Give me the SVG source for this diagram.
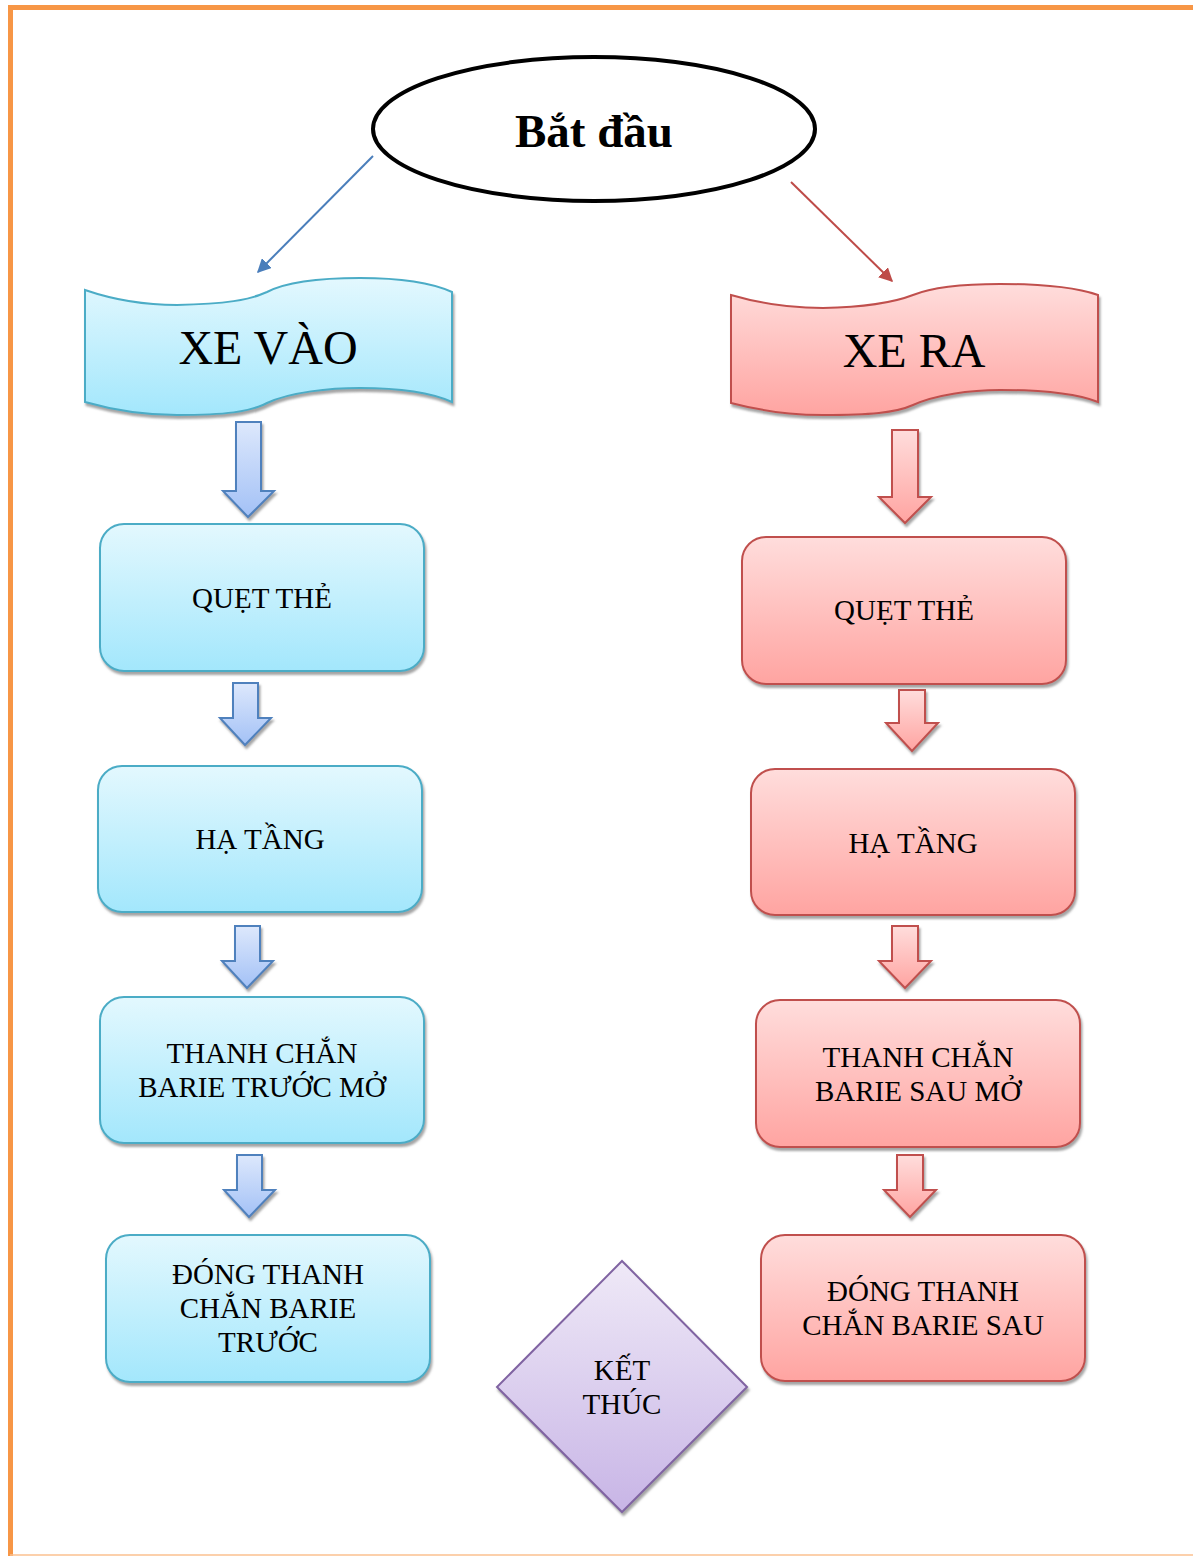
<svg xmlns="http://www.w3.org/2000/svg" width="1193" height="1556" viewBox="0 0 1193 1556">
<style>
text{font-family:"Liberation Serif","Times New Roman",serif;fill:#000;text-anchor:middle}
.t{font-size:29px}
.bl{fill:url(#gb);stroke:#4bacc6;stroke-width:2;filter:url(#sh)}
.rd{fill:url(#gr);stroke:#c0504d;stroke-width:2;filter:url(#sh)}
.ba{fill:url(#gba);stroke:#4f81bd;stroke-width:2;filter:url(#sh)}
.ra{fill:url(#gra);stroke:#c0504d;stroke-width:2;filter:url(#sh)}
</style>
<defs>
<linearGradient id="gb" x1="0" y1="0" x2="0" y2="1"><stop offset="0" stop-color="#e3f8fe"/><stop offset="1" stop-color="#a3e7fc"/></linearGradient>
<linearGradient id="gr" x1="0" y1="0" x2="0" y2="1"><stop offset="0" stop-color="#ffdddc"/><stop offset="1" stop-color="#ffa4a1"/></linearGradient>
<linearGradient id="gba" x1="0" y1="0" x2="0" y2="1"><stop offset="0" stop-color="#dde8fc"/><stop offset="1" stop-color="#a3c1f6"/></linearGradient>
<linearGradient id="gra" x1="0" y1="0" x2="0" y2="1"><stop offset="0" stop-color="#ffdddc"/><stop offset="1" stop-color="#ffa4a1"/></linearGradient>
<linearGradient id="gp" x1="0" y1="0" x2="0" y2="1"><stop offset="0" stop-color="#efe9f7"/><stop offset="1" stop-color="#c8b5e6"/></linearGradient>
<filter id="sh" x="-10%" y="-10%" width="120%" height="130%"><feDropShadow dx="1.5" dy="3" stdDeviation="1" flood-color="#7f7f7f" flood-opacity="0.7"/></filter>
<marker id="mb" viewBox="0 0 10 10" refX="9" refY="5" markerWidth="7" markerHeight="7" orient="auto"><path d="M0,0 L10,5 L0,10 Z" fill="#4a7ebb"/></marker>
<marker id="mr" viewBox="0 0 10 10" refX="9" refY="5" markerWidth="7" markerHeight="7" orient="auto"><path d="M0,0 L10,5 L0,10 Z" fill="#be4b48"/></marker>
</defs>
<rect width="1193" height="1556" fill="#fff"/>
<g id="frame">
<line x1="8" y1="7.5" x2="1193" y2="7.5" stroke="#f79646" stroke-width="5"/>
<line x1="10.5" y1="5" x2="10.5" y2="1556" stroke="#f79646" stroke-width="5"/>
<line x1="10" y1="1555" x2="1193" y2="1555" stroke="#fbc08f" stroke-width="1.5"/>
</g>
<g id="connectors">
<line x1="373" y1="156" x2="258" y2="272" stroke="#4a7ebb" stroke-width="2" marker-end="url(#mb)"/>
<line x1="791" y1="182" x2="892" y2="281" stroke="#be4b48" stroke-width="2" marker-end="url(#mr)"/>
<path class="ba" d="M236,422 H261 V491 H274 L248,517 L223,491 H236 Z"/>
<path class="ba" d="M233,683 H258 V718 H271 L245,745 L220,718 H233 Z"/>
<path class="ba" d="M235,926 H260 V961 H273 L247,988 L222,961 H235 Z"/>
<path class="ba" d="M237,1155 H262 V1190 H275 L249,1217 L224,1190 H237 Z"/>
<path class="ra" d="M892,430 H918 V497 H931 L905,523 L879,497 H892 Z"/>
<path class="ra" d="M899,690 H925 V723 H938 L912,751 L886,723 H899 Z"/>
<path class="ra" d="M892,926 H918 V961 H931 L905,988 L879,961 H892 Z"/>
<path class="ra" d="M897,1155 H923 V1190 H936 L910,1217 L884,1190 H897 Z"/>
</g>
<g id="start">
<ellipse cx="594" cy="129" rx="221" ry="72" fill="#fff" stroke="#000" stroke-width="4"/>
<text x="594" y="147" style="font-size:47px;font-weight:bold">Bắt đầu</text>
</g>
<g id="xe-vao">
<path class="bl" d="M85,290 C120,302 150,305 177,305 C225,304 250,300 267,292 C290,280 330,278 360,278 C400,278 430,282 452,292 L452,402 C430,392 400,388 360,388 C330,388 290,392 267,403 C250,412 225,415 177,415 C150,415 120,412 85,402 Z"/>
<text x="268" y="364" style="font-size:48px">XE VÀO</text>
</g>
<g id="xe-ra">
<path class="rd" d="M731,295 C765,305 795,308 823,308 C870,307 895,302 913,295 C935,286 970,284 1000,284 C1040,284 1075,287 1098,295 L1098,402 C1075,393 1040,390 1000,390 C970,390 935,395 913,405 C895,413 870,415 823,415 C795,415 765,412 731,403 Z"/>
<text x="914" y="367" style="font-size:48px">XE RA</text>
</g>
<g id="vao-quet">
<rect class="bl" x="100" y="524" width="324" height="147" rx="24"/>
<text class="t" x="262" y="608">QUẸT THẺ</text>
</g>
<g id="vao-ha">
<rect class="bl" x="98" y="766" width="324" height="146" rx="24"/>
<text class="t" x="260" y="849">HẠ TẦNG</text>
</g>
<g id="vao-thanh">
<rect class="bl" x="100" y="997" width="324" height="146" rx="24"/>
<text class="t" x="262" y="1063">THANH CHẮN</text>
<text class="t" x="262" y="1097">BARIE TRƯỚC MỞ</text>
</g>
<g id="vao-dong">
<rect class="bl" x="106" y="1235" width="324" height="147" rx="24"/>
<text class="t" x="268" y="1284">ĐÓNG THANH</text>
<text class="t" x="268" y="1318">CHẮN BARIE</text>
<text class="t" x="268" y="1352">TRƯỚC</text>
</g>
<g id="ra-quet">
<rect class="rd" x="742" y="537" width="324" height="147" rx="24"/>
<text class="t" x="904" y="620">QUẸT THẺ</text>
</g>
<g id="ra-ha">
<rect class="rd" x="751" y="769" width="324" height="146" rx="24"/>
<text class="t" x="913" y="853">HẠ TẦNG</text>
</g>
<g id="ra-thanh">
<rect class="rd" x="756" y="1000" width="324" height="147" rx="24"/>
<text class="t" x="918" y="1067">THANH CHẮN</text>
<text class="t" x="918" y="1101">BARIE SAU MỞ</text>
</g>
<g id="ra-dong">
<rect class="rd" x="761" y="1235" width="324" height="146" rx="24"/>
<text class="t" x="923" y="1301">ĐÓNG THANH</text>
<text class="t" x="923" y="1335">CHẮN BARIE SAU</text>
</g>
<g id="ket-thuc">
<path d="M622,1261 L747,1387 L622,1512 L497,1387 Z" fill="url(#gp)" stroke="#8064a2" stroke-width="2" filter="url(#sh)"/>
<text class="t" x="622" y="1380">KẾT</text>
<text class="t" x="622" y="1414">THÚC</text>
</g>
</svg>
